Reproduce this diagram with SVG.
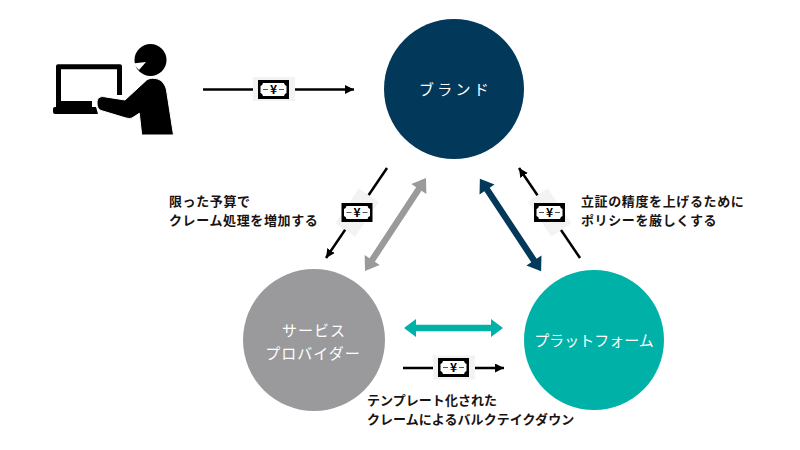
<svg xmlns="http://www.w3.org/2000/svg" width="800" height="450" viewBox="0 0 800 450">
<style>
text{font-family:"Noto Sans CJK JP","Noto Sans",sans-serif}
.l{font-size:13px;font-weight:700;fill:#1a1311;letter-spacing:.62px}
.l3{letter-spacing:.05px}
.n{font-size:15px;font-weight:400;fill:#fff;text-anchor:middle}
.ln{fill:none;stroke:#000;stroke-width:2.5;marker-end:url(#ah)}
</style>
<defs>
<marker id="ah" markerUnits="userSpaceOnUse" markerWidth="10" markerHeight="10" refX="9" refY="4.5" orient="auto"><path d="M0 0L9 4.5L0 9z" fill="#000"/></marker>
<path id="dbl" d="M-55.500 0L-42.500-9V-3.200H42.500V-9L55.500 0L42.500 9V3.200H-42.500V9z"/>
<g id="bill">
<rect x="-15.500" y="-9.500" width="31" height="19" fill="#000"/>
<path d="M-10.500-6.500H10.500Q11 -4 13-3.500V3.500Q11 4 10.500 6.500H-10.500Q-11 4-13 3.500V-3.500Q-11-4-10.500-6.500z" fill="#fff"/>
<path d="M-10.500 0H-5.500M5.500 0H10.500" stroke="#555" stroke-width="1"/>
<text y="4.500" font-size="12" font-weight="700" text-anchor="middle" fill="#000">¥</text>
</g>
</defs>
<rect width="800" height="450" fill="#fff"/>
<g id="connectors">
<path class="ln" d="M203 89.500H354"/>
<path class="ln" d="M387 168L326 258"/>
<path class="ln" d="M580 258L519 168"/>
<path class="ln" d="M403 368H504"/>
<use href="#dbl" fill="#9a9a9c" transform="translate(395.500 224.500) rotate(-56.700)"/>
<use href="#dbl" fill="#02395b" transform="translate(510.500 225) rotate(56.500)"/>
<path fill="#00b1a7" d="M404 328L416 319V324.800H491V319L503 328L491 337V331.200H416V337z"/>
</g>
<g id="bill-top"><rect x="253" y="77" width="42" height="24" fill="#f3f3f3"/><use href="#bill" x="273.500" y="89.500"/></g>
<g id="bill-left"><rect x="336" y="200.500" width="42" height="24" fill="#f3f3f3" transform="rotate(-56 357 212.500)"/><use href="#bill" x="357" y="212.500"/></g>
<g id="bill-right"><rect x="528.500" y="200.500" width="42" height="24" fill="#f3f3f3" transform="rotate(56 549.500 212.500)"/><use href="#bill" x="549.500" y="212.500"/></g>
<g id="bill-bottom"><rect x="433" y="355.500" width="42" height="24" fill="#f3f3f3"/><use href="#bill" x="453.500" y="367.500"/></g>
<g id="user">
<path fill="#000" d="M58 64.300H120a2 2 0 0 1 2 2V95H117V69.300H61V101H92V107H56V66.300a2 2 0 0 1 2-2z"/>
<path fill="#000" d="M55 107H96L98 114H55a2 2 0 0 1-2-2V109a2 2 0 0 1 2-2z"/>
<circle cx="150.500" cy="60" r="16" fill="#000"/>
<path fill="#fff" d="M133 63.500L146 62L139 70z"/>
<path fill="#000" stroke="#fff" stroke-width="1" d="M97 103C97 98 100 96 104 96.700L125 100L146.700 80C150 77.500 160 77 164 84Q166 87 166.500 90L173.500 135H141.700L139.300 113.300L132 118Q130 119 126 118L101 110.500C98 109.500 97 106 97 103z"/>
</g>
<g id="brand"><circle cx="454" cy="89" r="70" fill="#02395b"/><text class="n" x="455.500" y="95" letter-spacing="3.200">ブランド</text></g>
<g id="provider"><circle cx="314" cy="340" r="71" fill="#9a9a9c"/><text class="n" x="314" y="336" letter-spacing="1">サービス</text><text class="n" x="313" y="359" letter-spacing="1">プロバイダー</text></g>
<g id="platform"><circle cx="594" cy="340" r="70" fill="#00b1a7"/><text class="n" x="594" y="346">プラットフォーム</text></g>
<g id="labels">
<text class="l"><tspan x="169" y="206">限った予算で</tspan><tspan x="169" y="225">クレーム処理を増加する</tspan></text>
<text class="l"><tspan x="581" y="206">立証の精度を上げるために</tspan><tspan x="581" y="225">ポリシーを厳しくする</tspan></text>
<text class="l l3"><tspan x="367" y="405">テンプレート化された</tspan><tspan x="367" y="424">クレームによるバルクテイクダウン</tspan></text>
</g>
</svg>
